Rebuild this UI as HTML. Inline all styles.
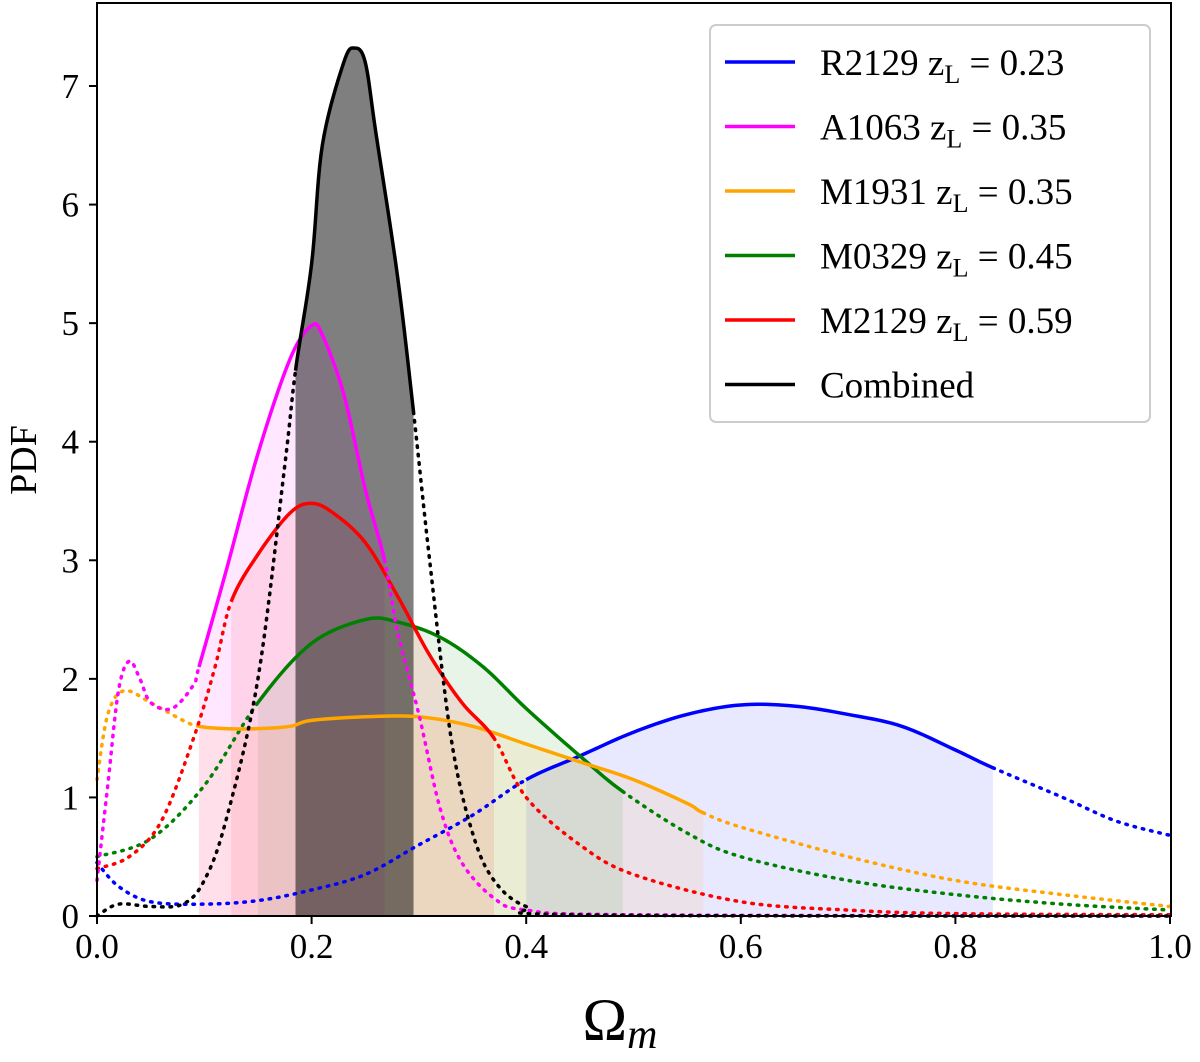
<!DOCTYPE html>
<html><head><meta charset="utf-8"><style>
body{margin:0;background:#fff}
svg{display:block;font-family:"Liberation Serif",serif}
</style></head><body>
<svg id="chart" width="1200" height="1062" viewBox="0 0 1200 1062" xmlns="http://www.w3.org/2000/svg">
<g id="fills"></g><g id="lines"></g><g id="axes"></g><g id="legend"></g>
</svg>
<script>
const xTicks=[0,0.2,0.4,0.6,0.8,1.0];
const yTicks=[0,1,2,3,4,5,6,7];
const seriesNames=["R2129","A1063","M1931","M0329","M2129","Combined"];
const seriesColors=["#0000ff","#ff00ff","#ffa500","#008000","#ff0000","#000000"];
const legendZ=["0.23","0.35","0.35","0.45","0.59",""];
const blueX=[0,0.02,0.05,0.1,0.15,0.2,0.25,0.3,0.35,0.4,0.45,0.5,0.55,0.6,0.65,0.7,0.75,0.8,0.835,0.9,0.95,1];
const blueY=[0.45,0.25,0.12,0.1,0.13,0.22,0.35,0.6,0.85,1.15,1.35,1.55,1.7,1.78,1.77,1.7,1.6,1.4,1.25,1.0,0.8,0.68];
const magX=[0,0.01,0.02,0.03,0.04,0.05,0.07,0.09,0.095,0.12,0.15,0.18,0.2,0.21,0.23,0.25,0.268,0.28,0.3,0.32,0.34,0.37,0.4,0.5,1];
const magY=[0.3,1.1,1.9,2.15,2.0,1.8,1.75,1.95,2.1,2.9,3.9,4.7,4.98,4.9,4.4,3.6,3.0,2.4,1.7,0.9,0.45,0.15,0.05,0.01,0];
const orX=[0,0.01,0.025,0.05,0.08,0.095,0.12,0.15,0.18,0.2,0.25,0.3,0.35,0.4,0.45,0.5,0.55,0.565,0.6,0.7,0.8,0.9,1];
const orY=[1.15,1.7,1.9,1.8,1.65,1.6,1.58,1.58,1.6,1.65,1.68,1.68,1.6,1.45,1.3,1.15,0.95,0.87,0.75,0.5,0.3,0.18,0.08];
const grX=[0,0.05,0.1,0.15,0.2,0.25,0.28,0.32,0.36,0.4,0.45,0.49,0.55,0.6,0.7,0.8,0.9,1];
const grY=[0.5,0.65,1.1,1.8,2.3,2.5,2.48,2.35,2.1,1.75,1.35,1.05,0.7,0.5,0.3,0.18,0.1,0.05];
const redX=[0,0.03,0.06,0.09,0.11,0.125,0.15,0.18,0.2,0.22,0.25,0.28,0.31,0.34,0.37,0.4,0.45,0.5,0.6,0.7,0.8,1];
const redY=[0.4,0.5,0.8,1.5,2.1,2.65,3.05,3.4,3.48,3.4,3.15,2.7,2.2,1.8,1.5,1.0,0.6,0.35,0.12,0.05,0.02,0.01];
const blkX=[0,0.02,0.05,0.08,0.1,0.12,0.15,0.175,0.185,0.2,0.21,0.23,0.24,0.25,0.26,0.28,0.295,0.31,0.33,0.35,0.37,0.4,0.45,1];
const blkY=[0,0.1,0.08,0.1,0.3,0.8,2.0,3.8,4.6,5.5,6.5,7.2,7.32,7.2,6.6,5.4,4.25,3.0,1.5,0.7,0.3,0.08,0.01,0];
const solidRanges=[[0.4,0.835],[0.095,0.268],[0.095,0.565],[0.15,0.49],[0.125,0.37],[0.185,0.295]];
const allX=[blueX,magX,orX,grX,redX,blkX];
const allY=[blueY,magY,orY,grY,redY,blkY];
const L=97,R=1171,T=3,B=916;
const sx=v=>L+v*(1073);
const sy=v=>B-v*118.57;
const NS="http://www.w3.org/2000/svg";
function mk(t,a,p){const e=document.createElementNS(NS,t);for(const k in a)e.setAttribute(k,a[k]);p.appendChild(e);return e;}
function smooth(xs,ys){const ox=[],oy=[];const n=xs.length;
 for(let i=0;i<n-1;i++){const p0=i>0?i-1:i,p3=i+2<n?i+2:i+1;
  for(let k=0;k<10;k++){const t=k/10,t2=t*t,t3=t2*t;
   const f=(a,b,c,d)=>0.5*((2*b)+(-a+c)*t+(2*a-5*b+4*c-d)*t2+(-a+3*b-3*c+d)*t3);
   ox.push(f(xs[p0],xs[i],xs[i+1],xs[p3]));oy.push(Math.max(0,f(ys[p0],ys[i],ys[i+1],ys[p3])));}}
 ox.push(xs[n-1]);oy.push(ys[n-1]);return [ox,oy];}
function interp(xs,ys,x){for(let i=0;i<xs.length-1;i++){if(x>=xs[i]&&x<=xs[i+1]){const t=(x-xs[i])/((xs[i+1]-xs[i])||1);return ys[i]+t*(ys[i+1]-ys[i]);}}return ys[ys.length-1];}
function pts(xs,ys,lo,hi){const p=[[lo,interp(xs,ys,lo)]];xs.forEach((x,i)=>{if(x>lo&&x<hi)p.push([x,ys[i]]);});p.push([hi,interp(xs,ys,hi)]);return p;}
const fills=document.getElementById('fills'),lines=document.getElementById('lines');
const order=[0,3,2,4,1,5];
const dense=allX.map((xs,i)=>smooth(xs,allY[i]));
order.forEach(i=>{
 const [lo,hi]=solidRanges[i];const [xs,ys]=dense[i];const p=pts(xs,ys,lo,hi);
 const d="M"+sx(lo)+","+sy(0)+" "+p.map(q=>"L"+sx(q[0])+","+sy(q[1])).join(" ")+" L"+sx(hi)+","+sy(0)+"Z";
 const f=mk('path',{d:d,fill:seriesColors[i],'fill-opacity':i==5?0.5:0.09},fills);
 
 
});
order.forEach(i=>{
 const [xs,ys]=dense[i];const [lo,hi]=solidRanges[i];
 const left=pts(xs,ys,xs[0],lo),right=pts(xs,ys,hi,xs[xs.length-1]),mid=pts(xs,ys,lo,hi);
 const toD=p=>p.map((q,j)=>(j?"L":"M")+sx(q[0])+","+sy(q[1])).join(" ");
 const dl=mk('path',{d:toD(left)+" "+toD(right),fill:'none',stroke:seriesColors[i],'stroke-width':3.5,'stroke-dasharray':'1.5 7','stroke-linecap':'round'},lines);
 
 
 const sl=mk('path',{d:toD(mid),fill:'none',stroke:seriesColors[i],'stroke-width':3.5,'stroke-linejoin':'round'},lines);
 
 
});
const ax=document.getElementById('axes');
const fr=mk('rect',{x:L,y:T,width:R-L,height:B-T,fill:'none',stroke:'#000','stroke-width':2},ax);

xTicks.forEach(v=>{mk('line',{x1:sx(v),x2:sx(v),y1:B,y2:B+8,stroke:'#000','stroke-width':2},ax);
 const t=mk('text',{x:sx(v),y:B+42,'font-size':35,'text-anchor':'middle'},ax);t.textContent=v.toFixed(1);
 });
yTicks.forEach(v=>{mk('line',{x1:L-8,x2:L,y1:sy(v),y2:sy(v),stroke:'#000','stroke-width':2},ax);
 const t=mk('text',{x:L-18,y:sy(v)+12,'font-size':35,'text-anchor':'end'},ax);t.textContent=v;
 });
const xl=mk('text',{x:620,y:1040,'font-size':60,'text-anchor':'middle'},ax);xl.innerHTML='Ω<tspan font-style="italic" font-size="42" dy="8">m</tspan>';

const yl=mk('text',{x:0,y:0,'font-size':38,'text-anchor':'middle',transform:'translate(36,460) rotate(-90)'},ax);yl.textContent='PDF';

const lg=document.getElementById('legend');
const box=mk('rect',{x:710,y:25,width:440,height:397,rx:6,fill:'#fff','fill-opacity':0.85,stroke:'#ccc','stroke-width':2},lg);

seriesNames.forEach((n,i)=>{const y=62+i*64.5;
 const g=mk('g',{},lg);
 mk('line',{x1:725,x2:795,y1:y,y2:y,stroke:seriesColors[i],'stroke-width':3.5},g);
 const t=mk('text',{x:820,y:y+13,'font-size':37},g);
 t.innerHTML=legendZ[i]?n+' z<tspan font-size="26" dy="8">L</tspan><tspan dy="-8"> = '+legendZ[i]+'</tspan>':n;});
</script>
</body></html>
